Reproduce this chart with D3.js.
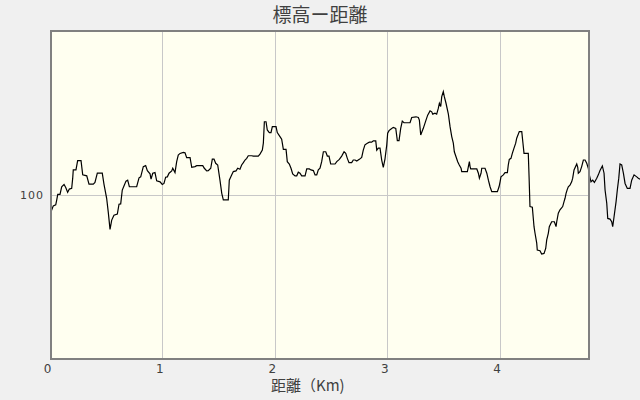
<!DOCTYPE html>
<html>
<head>
<meta charset="utf-8">
<script src="https://cdn.jsdelivr.net/npm/d3@7/dist/d3.min.js"></script>
<style>
html,body{margin:0;padding:0;background:#f0f0f0;}
svg{display:block;}
text{font-family:"Noto Sans CJK JP","Noto Sans CJK SC",sans-serif;fill:#404040;}
</style>
</head>
<body>
<svg id="chart" width="640" height="400"></svg>
<script>
const title = "標高ー距離";
const xTitle = "距離（Km)";
const xTicks = [0, 1, 2, 3, 4];
const yTicks = [100];
const xDomain = [0, 4.804];
const yDomain = [50, 150];

// distance (km)
const dist = [0.009,0.029,0.051,0.060,0.069,0.089,0.104,0.125,0.140,0.157,0.172,0.193,0.202,0.207,0.231,0.246,0.276,0.291,0.327,0.347,
0.385,0.400,0.421,0.465,0.480,0.504,0.519,0.534,0.549,0.569,0.599,0.614,0.629,0.643,0.658,0.676,0.691,0.706,0.771,0.792,
0.807,0.830,0.851,0.866,0.890,0.899,0.914,0.934,0.949,0.979,0.999,1.014,1.029,1.044,1.059,1.083,1.092,1.112,1.127,1.141,
1.157,1.186,1.201,1.216,1.246,1.261,1.290,1.305,1.359,1.373,1.394,1.408,1.430,1.444,1.459,1.474,1.492,1.512,1.528,1.542,
1.586,1.595,1.617,1.631,1.655,1.670,1.690,1.705,1.720,1.735,1.750,1.764,1.794,1.809,1.853,1.868,1.889,1.898,1.907,1.922,
1.933,1.951,1.966,1.978,2.011,2.022,2.046,2.061,2.076,2.100,2.111,2.129,2.144,2.159,2.180,2.195,2.209,2.224,2.239,2.269,
2.284,2.307,2.322,2.343,2.358,2.373,2.387,2.402,2.417,2.432,2.453,2.467,2.482,2.497,2.536,2.551,2.574,2.595,2.616,2.631,
2.645,2.660,2.684,2.698,2.714,2.729,2.752,2.773,2.787,2.802,2.823,2.841,2.862,2.876,2.898,2.907,2.921,2.936,2.951,2.965,
2.980,2.996,3.004,3.016,3.034,3.054,3.076,3.090,3.105,3.120,3.134,3.149,3.203,3.218,3.256,3.277,3.286,3.298,3.321,3.345,
3.360,3.381,3.396,3.405,3.425,3.440,3.455,3.464,3.476,3.485,3.499,3.508,3.523,3.544,3.559,3.574,3.588,3.597,3.612,3.627,
3.641,3.657,3.663,3.713,3.722,3.731,3.737,3.743,3.797,3.811,3.820,3.835,3.841,3.870,3.886,3.900,3.915,3.930,3.980,3.995,
4.004,4.012,4.033,4.048,4.069,4.077,4.086,4.101,4.113,4.128,4.143,4.152,4.175,4.197,4.206,4.217,4.255,4.262,4.270,4.291,
4.306,4.315,4.330,4.335,4.359,4.374,4.395,4.410,4.419,4.433,4.442,4.463,4.487,4.502,4.508,4.522,4.537,4.561,4.573,4.582,
4.591,4.602,4.611,4.626,4.641,4.650,4.662,4.686,4.695,4.700,4.715,4.730,4.745,4.760,4.775,4.789,4.798,4.813,4.828,4.843,
4.864,4.878,4.893,4.914,4.929,4.938,4.953,4.962,4.982,4.997,5.006,5.018,5.036,5.047,5.060,5.071,5.086,5.101,5.116,5.136,
5.160,5.175,5.196,5.220,5.234,5.249];

// elevation (m)
const elev = [94.9,96.7,97.0,98.5,100.2,100.2,102.5,103.2,102.3,100.8,101.8,102.0,105.1,107.6,107.6,110.4,110.4,106.1,105.8,103.3,
103.3,103.8,106.6,106.6,103.3,99.0,94.6,89.6,92.4,93.9,94.2,97.2,97.3,101.5,102.7,104.2,104.5,102.5,102.5,105.2,
105.5,108.6,108.9,107.4,106.4,104.8,106.6,106.8,104.3,104.0,103.2,103.5,105.4,105.5,106.6,107.3,108.1,106.8,110.1,112.1,
112.6,112.9,112.8,111.3,111.3,108.4,108.6,108.9,108.9,108.1,107.3,107.4,108.1,110.9,110.9,109.6,109.1,104.5,100.5,98.5,
98.5,104.5,106.1,107.1,107.3,108.1,107.8,109.1,109.8,110.6,111.1,111.9,111.9,111.8,111.8,112.4,113.6,115.7,122.2,122.2,
119.7,118.9,118.9,120.7,120.7,118.9,117.7,116.9,113.8,113.8,110.1,109.4,108.1,106.4,105.8,105.8,106.9,106.6,105.8,105.8,
107.9,107.9,107.6,107.4,106.1,106.1,107.6,108.1,110.1,113.1,113.1,111.8,111.8,109.4,109.4,110.1,110.8,111.8,113.1,112.6,
111.1,109.8,109.8,110.6,110.6,110.3,110.8,111.4,113.6,115.2,115.7,116.0,116.0,116.4,116.4,113.6,114.2,114.2,110.6,108.4,
110.9,115.2,118.7,119.5,120.0,120.5,120.2,116.5,116.5,120.2,122.4,121.9,121.9,123.5,123.7,123.5,122.7,118.2,120.2,122.7,
124.2,125.5,125.2,124.5,124.8,124.5,126.3,127.8,126.8,129.8,131.3,129.8,127.8,124.5,120.7,117.7,115.7,113.1,111.6,110.1,
109.1,108.1,107.1,107.1,108.6,110.1,108.6,107.9,107.9,106.6,105.1,106.6,108.1,108.1,106.6,104.5,102.5,101.0,101.0,102.5,
104.0,105.5,106.1,106.8,106.8,109.1,110.8,111.1,112.6,114.2,115.7,117.2,119.2,119.2,116.2,112.6,112.6,105.5,96.5,96.3,
90.4,88.4,85.4,83.3,83.1,82.1,82.3,83.8,86.4,88.4,90.4,91.9,91.9,90.4,91.9,94.5,95.5,96.5,98.0,99.0,
100.5,101.7,102.5,103.0,104.0,105.1,107.6,109.4,108.4,106.6,107.1,108.6,110.6,110.6,109.6,108.1,106.1,104.0,104.5,103.8,
105.1,106.1,107.4,108.8,106.6,101.5,97.5,92.9,92.7,91.9,90.4,93.4,98.0,101.5,105.1,109.4,109.1,106.6,103.5,102.0,
102.0,104.5,106.1,105.5,105.1,104.8];

const data = dist.map((d, i) => ({d: d, e: elev[i]}));

const svg = d3.select("#chart");
const pL = 50, pR = 590, pT = 30, pB = 360;

const x = d3.scaleLinear().domain(xDomain).range([pL, pR]);
const y = d3.scaleLinear().domain(yDomain).range([pB, pT]);

// plot background
svg.append("rect").attr("x", pL).attr("y", pT)
  .attr("width", pR - pL).attr("height", pB - pT)
  .attr("fill", "#fffff0");

// gridlines
const gx = svg.append("g").attr("transform", `translate(0,${pT})`)
  .call(d3.axisBottom(x).tickValues(xTicks).tickSize(pB - pT).tickFormat(""));
gx.select(".domain").remove();
gx.selectAll("line").attr("stroke", "#c8c8c8").attr("shape-rendering", "crispEdges");

const gy = svg.append("g").attr("transform", `translate(${pL},0)`)
  .call(d3.axisRight(y).tickValues(yTicks).tickSize(pR - pL).tickFormat(""));
gy.select(".domain").remove();
gy.selectAll("line").attr("stroke", "#c8c8c8").attr("shape-rendering", "crispEdges");

// tick labels
const xl = svg.append("g").attr("transform", `translate(-3,${pB + 4})`)
  .call(d3.axisBottom(x).tickValues(xTicks).tickSize(0).tickPadding(0).tickFormat(d3.format("d")));
xl.select(".domain").remove();
xl.selectAll("text").attr("fill", "#404040").style("font-size", "12px")
  .style("font-family", "'DejaVu Sans',sans-serif");

const yl = svg.append("g").attr("transform", `translate(${pL - 6},0)`)
  .call(d3.axisLeft(y).tickValues(yTicks).tickSize(0).tickPadding(0).tickFormat(d3.format("d")));
yl.select(".domain").remove();
yl.selectAll("text").attr("fill", "#404040").style("font-size", "11px")
  .style("font-family", "'DejaVu Sans',sans-serif").style("letter-spacing", "1px");

// line
const line = d3.line().x(p => x(p.d)).y(p => y(p.e));
svg.append("path").datum(data).attr("d", line)
  .attr("fill", "none").attr("stroke", "#000").attr("stroke-width", 1.2);

// border
svg.append("rect").attr("x", pL + 1).attr("y", pT + 1)
  .attr("width", pR - pL - 2).attr("height", pB - pT - 2)
  .attr("fill", "none").attr("stroke", "#808080").attr("stroke-width", 2);

// titles
svg.append("text").attr("x", 320).attr("y", 22).attr("text-anchor", "middle")
  .style("font-size", "19px").text(title);
svg.append("text").attr("x", 271).attr("y", 391).attr("text-anchor", "start")
  .style("font-size", "15px").text(xTitle);
</script>
</body>
</html>
